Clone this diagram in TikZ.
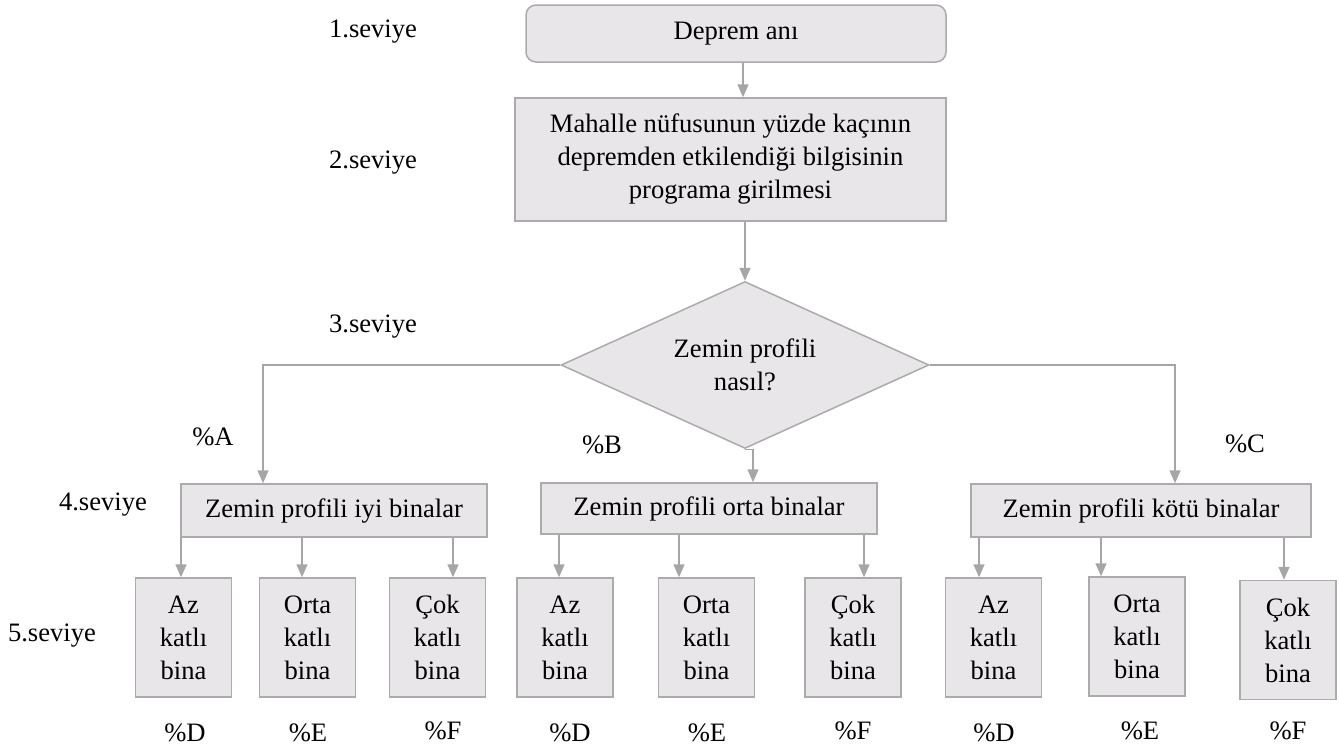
\documentclass[tikz,border=0pt]{standalone}
\usepackage{fontspec}
\setmainfont{Liberation Serif}
\usetikzlibrary{shapes.geometric,arrows.meta}
\definecolor{boxfill}{HTML}{E8E6E8}
\definecolor{boxline}{HTML}{ABABAB}
\definecolor{arrline}{HTML}{A6A6A6}
\tikzset{
  box/.style={draw=boxline,fill=boxfill,line width=1.5pt,inner sep=0pt,align=center},
  katbox/.style={box,minimum width=96,minimum height=119},
  karar/.style={box,diamond,aspect=2.2,minimum width=368,minimum height=167},
  arr/.style={draw=arrline,line width=1.5pt,-{Triangle[width=11pt,length=13pt]}},
  lbl/.style={inner sep=0pt}
}
\begin{document}
\begin{tikzpicture}[x=1pt,y=-1pt,font=\fontsize{26.6}{33}\selectfont]
  \useasboundingbox (0,0) rectangle (1339,747);
  % seviye etiketleri
  \node[lbl] (s1) at (373,32) {1.seviye};
  \node[lbl] (s2) at (373,163) {2.seviye};
  \node[lbl] (s3) at (373,327) {3.seviye};
  \node[lbl] (s4) at (103,505) {4.seviye};
  \node[lbl] (s5) at (52,636) {5.seviye};
  % ana kutular
  \node[box,rounded corners=10pt,minimum width=420,minimum height=57] (an) at (736,33.5) {Deprem anı};
  \node[box,minimum width=431,minimum height=123] (bilgi) at (730.5,159.5)
    {Mahalle nüfusunun yüzde kaçının\\depremden etkilendiği bilgisinin\\programa girilmesi};
  \node[karar] (zemin) at (745,365) {Zemin profili\\nasıl?};
  \node[box,minimum width=306,minimum height=53] (iyi) at (334,510.5) {Zemin profili iyi binalar};
  \node[box,minimum width=336,minimum height=51] (orta) at (709,508.5) {Zemin profili orta binalar};
  \node[box,minimum width=340,minimum height=53] (kotu) at (1141,510.5) {Zemin profili kötü binalar};
  % kat kutulari
  \node[katbox] (az1) at (183.5,637.5) {Az\\katlı\\bina};
  \node[katbox] (or1) at (307.5,637.5) {Orta\\katlı\\bina};
  \node[katbox] (co1) at (437.5,637.5) {Çok\\katlı\\bina};
  \node[katbox] (az2) at (565,637.5) {Az\\katlı\\bina};
  \node[katbox] (or2) at (706.5,637.5) {Orta\\katlı\\bina};
  \node[katbox] (co2) at (853,637.5) {Çok\\katlı\\bina};
  \node[katbox] (az3) at (993.5,637.5) {Az\\katlı\\bina};
  \node[katbox] (or3) at (1137,636.5) {Orta\\katlı\\bina};
  \node[katbox] (co3) at (1288,640) {Çok\\katlı\\bina};
  % yuzdeler
  \node[lbl] (pA) at (213,437) {\%A};
  \node[lbl] (pB) at (602,445) {\%B};
  \node[lbl] (pC) at (1245,444) {\%C};
  \node[lbl] (pD1) at (185,733) {\%D};
  \node[lbl] (pE1) at (308,733) {\%E};
  \node[lbl] (pF1) at (443,731) {\%F};
  \node[lbl] (pD2) at (570,733) {\%D};
  \node[lbl] (pE2) at (707,733) {\%E};
  \node[lbl] (pF2) at (853,731) {\%F};
  \node[lbl] (pD3) at (994,733) {\%D};
  \node[lbl] (pE3) at (1140,731) {\%E};
  \node[lbl] (pF3) at (1288,731) {\%F};
  \begin{scope}[arr]
    \draw ([xshift=7]an.south) -- ([xshift=7]an.south |- bilgi.north);
    \draw (bilgi.south -| zemin.north) -- (zemin.north);
    \draw (zemin.west) -| ([xshift=-71]iyi.north);
    \draw (zemin.east) -| ([xshift=34]kotu.north);
    \draw (zemin.south) -- ++(8,0) -- ([xshift=44]orta.north);
    \draw ([xshift=-2.5]az1.north |- iyi.south) -- ([xshift=-2.5]az1.north);
    \draw ([xshift=-5.5]or1.north |- iyi.south) -- ([xshift=-5.5]or1.north);
    \draw ([xshift=15.5]co1.north |- iyi.south) -- ([xshift=15.5]co1.north);
    \draw ([xshift=-6]az2.north |- orta.south) -- ([xshift=-6]az2.north);
    \draw ([xshift=-27.5]or2.north |- orta.south) -- ([xshift=-27.5]or2.north);
    \draw ([xshift=11]co2.north |- orta.south) -- ([xshift=11]co2.north);
    \draw ([xshift=-14.5]az3.north |- kotu.south) -- ([xshift=-14.5]az3.north);
    \draw ([xshift=-36]or3.north |- kotu.south) -- ([xshift=-36]or3.north);
    \draw ([xshift=-4]co3.north |- kotu.south) -- ([xshift=-4]co3.north);
  \end{scope}
\end{tikzpicture}
\end{document}
